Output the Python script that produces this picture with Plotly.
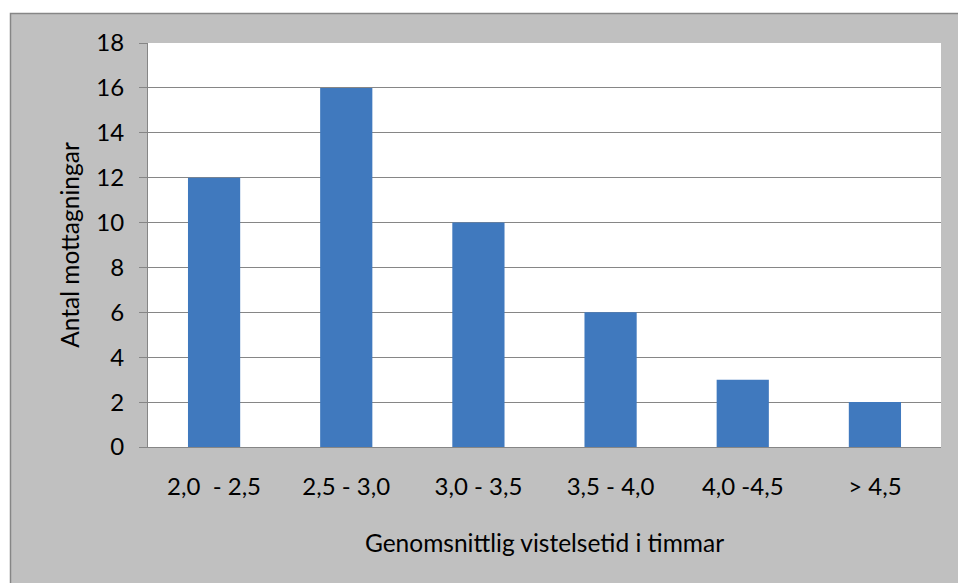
import plotly.graph_objects as go

categories = ["2,0  - 2,5", "2,5 - 3,0", "3,0 - 3,5", "3,5 - 4,0", "4,0 -4,5", "> 4,5"]
values = [12, 16, 10, 6, 3, 2]
y_ticks = [0, 2, 4, 6, 8, 10, 12, 14, 16, 18]

W, H = 958, 583
L, R, T, B = 148, 17, 43, 136
pw, ph = W - L - R, H - T - B

def px_x(x):
    return (x - L) / pw

def px_y(y):
    return (H - B - y) / ph

FONT = "Lato"
fig = go.Figure(go.Bar(x=categories, y=values, marker_color="#4079be",
                       marker_line_width=0, width=0.395))

fig.update_layout(
    width=W, height=H,
    margin=dict(l=L, r=R, t=T, b=B),
    paper_bgcolor="white",
    plot_bgcolor="white",
    font=dict(family=FONT, size=24, color="black"),
    showlegend=False,
    shapes=[
        dict(type="rect", xref="paper", yref="paper", layer="below",
             x0=px_x(10.5), x1=px_x(965), y0=px_y(590), y1=px_y(13.5),
             fillcolor="#c0c0c0", line=dict(color="#868686", width=1.5)),
        dict(type="rect", xref="paper", yref="paper", layer="below",
             x0=0, x1=1, y0=0, y1=1, fillcolor="white", line=dict(width=0)),
    ],
)
fig.update_xaxes(
    showgrid=False, ticks="", showline=True, linecolor="#868686", linewidth=1,
    title=dict(text="Genomsnittlig vistelsetid i timmar", standoff=36,
               font=dict(size=24.5)),
    tickfont=dict(size=24), ticklabelstandoff=18,
)
fig.update_yaxes(
    range=[0, 18], tickvals=y_ticks, showgrid=True, gridcolor="#868686", gridwidth=1,
    zeroline=False, showline=True, linecolor="#868686", linewidth=1,
    ticks="outside", ticklen=8, tickcolor="#868686",
    tickfont=dict(size=24), ticklabelstandoff=10,
    title=dict(text="Antal mottagningar", standoff=9, font=dict(size=24.5)),
)
fig.write_html("out.html", config={"displayModeBar": False},
               post_script="document.body.style.margin='0';document.body.style.overflow='hidden';")
